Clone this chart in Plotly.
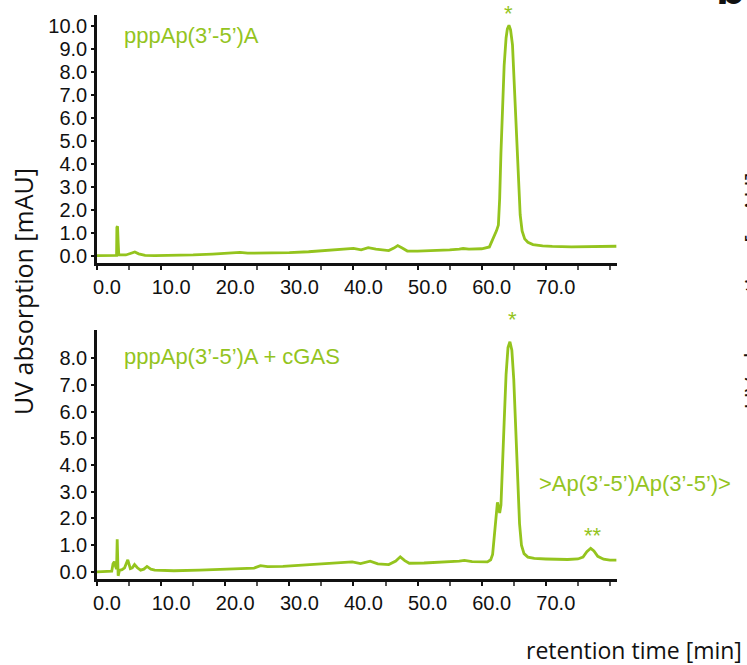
import plotly.graph_objects as go

# ---------------- data ----------------
top_time = [0, 1, 2, 3.05, 3.1, 3.2, 3.3, 3.4, 4.5, 5.5, 5.9, 6.5, 7.5, 9, 12, 15, 18, 21,
            22.3, 23.5, 26, 30, 33, 35, 37, 39, 40, 41.2, 42.3, 43.5, 45.5, 46.3, 46.9,
            47.6, 48.4, 50, 53, 55, 56.5, 57.1, 58, 60, 61.2, 61.8, 62.3, 62.6, 62.8,
            63.0, 63.2, 63.5, 63.8, 64.0, 64.25, 64.5, 64.8, 65.1, 65.4, 65.7, 66.0,
            66.3, 66.7, 67.2, 68, 69.5, 71, 74, 76, 78.5, 81]
top_signal = [0.02, 0.02, 0.03, 0.03, 1.25, 1.3, 0.6, 0.05, 0.05, 0.14, 0.18, 0.1, 0.03,
              0.02, 0.02, 0.05, 0.09, 0.12, 0.16, 0.13, 0.13, 0.15, 0.19, 0.23, 0.29,
              0.32, 0.34, 0.27, 0.37, 0.3, 0.24, 0.35, 0.46, 0.35, 0.22, 0.22, 0.24,
              0.27, 0.3, 0.33, 0.3, 0.32, 0.4, 0.75, 1.1, 1.35, 2.5, 4.5, 6.3, 8.3,
              9.5, 9.9, 10.05, 9.85, 9.2, 7.4, 5.2, 3.2, 1.8, 1.1, 0.75, 0.6, 0.5,
              0.45, 0.42, 0.4, 0.41, 0.42, 0.43]

bot_time = [0, 1.5, 2.3, 2.5, 2.7, 2.9, 3.05, 3.15, 3.22, 3.3, 3.5, 3.9, 4.3, 4.8, 5.2,
            5.5, 5.85, 6.3, 6.8, 7.3, 7.8, 8.4, 9, 12, 16, 19, 21.5, 24.5, 25.5, 26.6,
            29, 32, 34.9, 37.5, 39.8, 41.1, 42.6, 43.8, 45.5, 46.6, 47.3, 48, 48.7,
            51, 54, 56.5, 57.3, 58.5, 60.9, 61.4, 61.7, 61.95, 62.2, 62.45, 62.6,
            62.8, 63.0, 63.25, 63.5, 63.8, 64.1, 64.4, 64.7, 65.0, 65.3, 65.6, 65.9,
            66.2, 66.6, 67.2, 68.2, 70, 73.4, 75, 75.8, 76.4, 77.0, 77.5, 78.1, 79,
            80, 81]
bot_signal = [0.0, 0.0, 0.02, 0.3, 0.38, 0.2, 0.1, 1.22, 0.3, -0.15, 0.05, 0.08, 0.15,
              0.45, 0.12, 0.15, 0.27, 0.15, 0.06, 0.1, 0.2, 0.1, 0.06, 0.04, 0.06,
              0.09, 0.12, 0.14, 0.23, 0.19, 0.2, 0.25, 0.3, 0.33, 0.37, 0.31, 0.4,
              0.3, 0.27, 0.4, 0.56, 0.42, 0.32, 0.33, 0.36, 0.4, 0.43, 0.38, 0.37,
              0.45, 0.65, 1.4, 2.2, 2.6, 2.45, 2.2, 2.5, 3.8, 5.6, 7.4, 8.4, 8.62,
              8.3, 7.2, 5.3, 3.3, 1.8, 1.0, 0.68, 0.55, 0.5, 0.48, 0.46, 0.48, 0.55,
              0.75, 0.88, 0.78, 0.58, 0.47, 0.44, 0.44]

x_tickvals = [0, 10, 20, 30, 40, 50, 60, 70]
x_ticktext = ["0.0", "10.0", "20.0", "30.0", "40.0", "50.0", "60.0", "70.0"]
top_ytickvals = [0, 1, 2, 3, 4, 5, 6, 7, 8, 9, 10]
top_yticktext = ["0.0", "1.0", "2.0", "3.0", "4.0", "5.0", "6.0", "7.0", "8.0", "9.0", "10.0"]
bot_ytickvals = [0, 1, 2, 3, 4, 5, 6, 7, 8]
bot_yticktext = ["0.0", "1.0", "2.0", "3.0", "4.0", "5.0", "6.0", "7.0", "8.0"]

# ---------------- style ----------------
W, H = 747, 665
L, R, T, B = 97, 130, 15, 86
GREEN = "#94C41E"
TICKFONT = dict(family="Liberation Sans, Arial, sans-serif", size=20, color="#111111")
LABFONT = dict(family="Liberation Sans, Arial, sans-serif", size=22, color=GREEN)
TITLEFONT = dict(family="Open Sans, sans-serif", color="#111111")

pw, ph = W - L - R, H - T - B


def px(x):
    return (x - L) / pw


def py(y):
    return (H - B - y) / ph


top_dom = [py(263), 1.0]
bot_dom = [0.0, py(330)]

fig = go.Figure()
fig.add_trace(go.Scatter(x=top_time, y=top_signal, mode="lines",
                         line=dict(color=GREEN, width=2.8), xaxis="x", yaxis="y",
                         showlegend=False, hoverinfo="skip"))
fig.add_trace(go.Scatter(x=bot_time, y=bot_signal, mode="lines",
                         line=dict(color=GREEN, width=2.8), xaxis="x2", yaxis="y2",
                         showlegend=False, hoverinfo="skip"))

xcommon = dict(range=[0, 81.1], showline=True, linecolor="#111111", linewidth=2.5,
               ticks="outside", ticklen=4, tickwidth=2, tickcolor="#111111",
               tickmode="array", tickvals=x_tickvals, ticktext=x_ticktext,
               tickfont=TICKFONT, ticklabelshift=10, showgrid=False, zeroline=False,
               minor=dict(tickmode="linear", tick0=0, dtick=5, ticks="outside",
                          ticklen=4, tickwidth=2, tickcolor="#555555", showgrid=False))
ycommon = dict(showline=True, linecolor="#111111", linewidth=2.5, ticks="outside",
               ticklen=3, tickwidth=2, tickcolor="#111111", tickmode="array",
               tickfont=TICKFONT, showgrid=False, zeroline=False)

fig.update_layout(
    width=W, height=H, margin=dict(l=L, r=R, t=T, b=B),
    paper_bgcolor="white", plot_bgcolor="white",
    xaxis=dict(domain=[0, 1], anchor="y", **xcommon),
    yaxis=dict(domain=top_dom, anchor="x", range=[-0.3, 10.5],
               tickvals=top_ytickvals, ticktext=top_yticktext, **ycommon),
    xaxis2=dict(domain=[0, 1], anchor="y2", **xcommon),
    yaxis2=dict(domain=bot_dom, anchor="x2", range=[-0.27, 9.06],
                tickvals=bot_ytickvals, ticktext=bot_yticktext, **ycommon),
)

ann = [
    dict(text="pppAp(3’-5’)A", x=px(122), y=py(35), xanchor="left", yanchor="middle", font=LABFONT),
    dict(text="*", x=px(508), y=py(13), xanchor="center", yanchor="middle", font=dict(LABFONT, size=22)),
    dict(text="pppAp(3’-5’)A + cGAS", x=px(122), y=py(356), xanchor="left", yanchor="middle", font=LABFONT),
    dict(text="*", x=px(512), y=py(319), xanchor="center", yanchor="middle", font=dict(LABFONT, size=22)),
    dict(text=">Ap(3’-5’)Ap(3’-5’)>", x=px(537), y=py(483), xanchor="left", yanchor="middle", font=LABFONT),
    dict(text="**", x=px(593), y=py(535), xanchor="center", yanchor="middle", font=dict(LABFONT, size=22)),
    dict(text="retention time [min]", x=px(744), y=py(650), xanchor="right", yanchor="middle",
         font=dict(TITLEFONT, size=23)),
    dict(text="UV absorption [mAU]", x=px(23), y=py(292), xanchor="center", yanchor="middle",
         textangle=-90, font=dict(TITLEFONT, size=25)),
    # cropped neighbouring panel "b"
    dict(text="<b>b</b>", x=px(714), y=py(16), xanchor="left", yanchor="bottom",
         font=dict(family="Liberation Sans, Arial, sans-serif", size=48, color="#111111")),
    dict(text="UV absorption [mAU]", x=px(733), y=py(291), xanchor="left", yanchor="middle",
         textangle=-90, font=dict(TITLEFONT, size=24)),
]
for a in ann:
    a.update(xref="paper", yref="paper", showarrow=False)
fig.update_layout(annotations=ann)

fig.write_html("out.html")
